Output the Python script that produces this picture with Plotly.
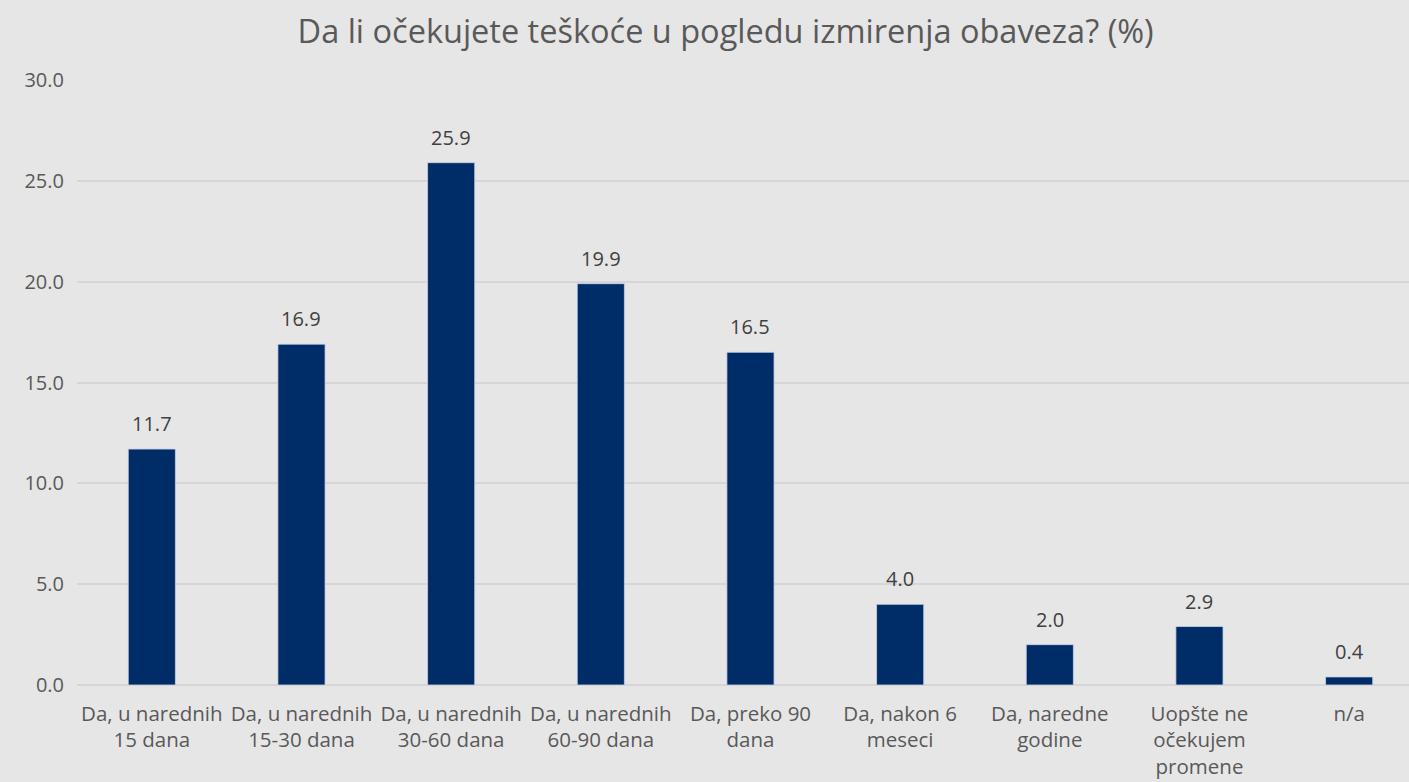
import plotly.graph_objects as go

categories = [
    "Da, u narednih<br>15 dana",
    "Da, u narednih<br>15-30 dana",
    "Da, u narednih<br>30-60 dana",
    "Da, u narednih<br>60-90 dana",
    "Da, preko 90<br>dana",
    "Da, nakon 6<br>meseci",
    "Da, naredne<br>godine",
    "Uopšte ne<br>očekujem<br>promene",
    "n/a",
]
values = [11.7, 16.9, 25.9, 19.9, 16.5, 4.0, 2.0, 2.9, 0.4]
y_ticks = [0, 5, 10, 15, 20, 25, 30]

FONT = "'Open Sans', Lato, sans-serif"
xs = list(range(len(categories)))

fig = go.Figure(
    go.Bar(
        x=xs,
        y=values,
        width=0.315,
        marker=dict(color="#002D68", line=dict(color="#C9D3E3", width=0.8)),
        cliponaxis=False,
    )
)

for x, v in zip(xs, values):
    fig.add_annotation(
        x=x, y=v, text=f"{v:.1f}", showarrow=False,
        xanchor="center", yanchor="bottom", yshift=10,
        font=dict(family=FONT, size=20, color="#404040"),
    )

fig.update_layout(
    width=1409,
    height=782,
    paper_bgcolor="#E7E6E6",
    plot_bgcolor="#E7E6E6",
    margin=dict(l=77, r=0, t=80, b=97),
    showlegend=False,
    title=dict(
        text="Da li očekujete teškoće u pogledu izmirenja obaveza? (%)",
        x=0.515,
        xanchor="center",
        y=0.96,
        yanchor="middle",
        font=dict(family=FONT, size=32.5, color="#595959"),
    ),
)

fig.update_xaxes(
    tickmode="array",
    tickvals=xs,
    ticktext=categories,
    range=[-0.5, 8.4],
    showgrid=False,
    zeroline=False,
    showline=False,
    ticks="",
    ticklabelstandoff=14,
    tickfont=dict(family=FONT, size=20.5, color="#595959"),
    tickangle=0,
)

fig.update_yaxes(
    range=[0, 30],
    tickvals=y_ticks,
    tickformat=".1f",
    showgrid=True,
    gridcolor="#D6D6D6",
    gridwidth=1.5,
    zeroline=True,
    zerolinecolor="#D6D6D6",
    zerolinewidth=1.5,
    showline=False,
    ticks="",
    ticklabelstandoff=12,
    tickfont=dict(family=FONT, size=20, color="#595959"),
)

fig.write_html(
    "out.html",
    config={"displayModeBar": False},
    post_script="document.body.style.margin='0';document.body.style.padding='0';",
)
